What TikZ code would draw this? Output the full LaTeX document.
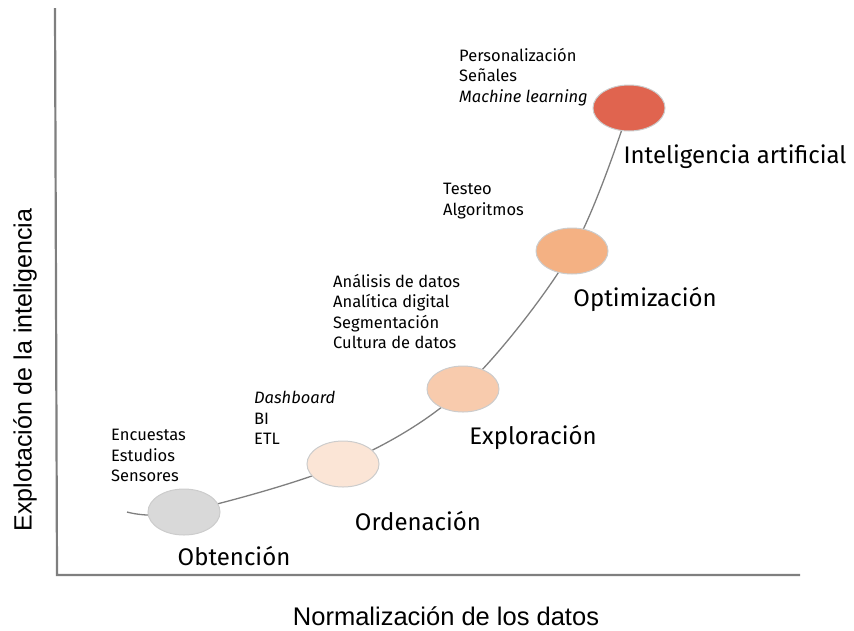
\documentclass[tikz,border=0pt]{standalone}
\usepackage{fontspec}
\setmainfont{Fira Sans}
\newfontfamily\axisfont{Liberation Sans}
\usetikzlibrary{backgrounds,shapes.geometric}
\definecolor{axisgray}{HTML}{7F7F7F}
\definecolor{stageA}{HTML}{D9D9D9}
\definecolor{stageB}{HTML}{FBE5D6}
\definecolor{stageC}{HTML}{F8CBAD}
\definecolor{stageD}{HTML}{F4B183}
\definecolor{stageE}{HTML}{E0644F}
\begin{document}
\begin{tikzpicture}
    [x=1pt, y=-1pt,
     stage/.style = {ellipse, draw=black!20, line width=1pt, minimum width=72pt, minimum height=46pt, inner sep=0pt},
     stagename/.style = {font=\fontsize{24}{28}\selectfont, inner sep=0pt},
     items/.style = {font=\fontsize{16.5}{20.5}\selectfont, align=left, anchor=north west, inner sep=0pt},
     axis/.style = {draw=axisgray, line width=2.2pt}]
    \useasboundingbox (0,0) rectangle (854,630);
    % axes
    \coordinate (top) at (55,8);
    \coordinate (origin) at (57,575);
    \coordinate (right) at (800,575);
    \draw[axis] (top) -- (origin) -- (right);
    \node[font=\axisfont\fontsize{25}{30}\selectfont, rotate=90] (ylabel) at (25,370) {Explotación de la inteligencia};
    \node[font=\axisfont\fontsize{25.5}{30}\selectfont] (xlabel) at (446,616) {Normalización de los datos};
    % stages
    \node[stage, fill=stageA] (obt) at (184,512) {};
    \node[stage, fill=stageB] (ord) at (343,464) {};
    \node[stage, fill=stageC] (exp) at (463,389) {};
    \node[stage, fill=stageD] (opt) at (572,251) {};
    \node[stage, fill=stageE] (ia) at (629,108) {};
    \coordinate (start) at (127,512);
    \begin{scope}[on background layer]
        \draw[axisgray, line width=1.3pt] plot[smooth, tension=0.55] coordinates {(start) (obt.center) (ord.center) (exp.center) (opt.center) (ia.center)};
    \end{scope}
    % names
    \node[stagename] (obtname) at (234,556) {Obtención};
    \node[stagename] (ordname) at (418,521) {Ordenación};
    \node[stagename] (expname) at (533,437) {Exploración};
    \node[stagename] (optname) at (645,299) {Optimización};
    \node[stagename] (ianame) at (735,157) {Inteligencia artificial};
    % items
    \node[items] (obtitems) at (111,429) {Encuestas\\Estudios\\Sensores};
    \node[items] (orditems) at (254,391) {\textit{Dashboard}\\BI\\ETL};
    \node[items] (expitems) at (333,274) {Análisis de datos\\Analítica digital\\Segmentación\\Cultura de datos};
    \node[items] (optitems) at (443,183) {Testeo\\Algoritmos};
    \node[items] (iaitems) at (459,48) {Personalización\\Señales\\\textit{Machine learning}};
\end{tikzpicture}
\end{document}
